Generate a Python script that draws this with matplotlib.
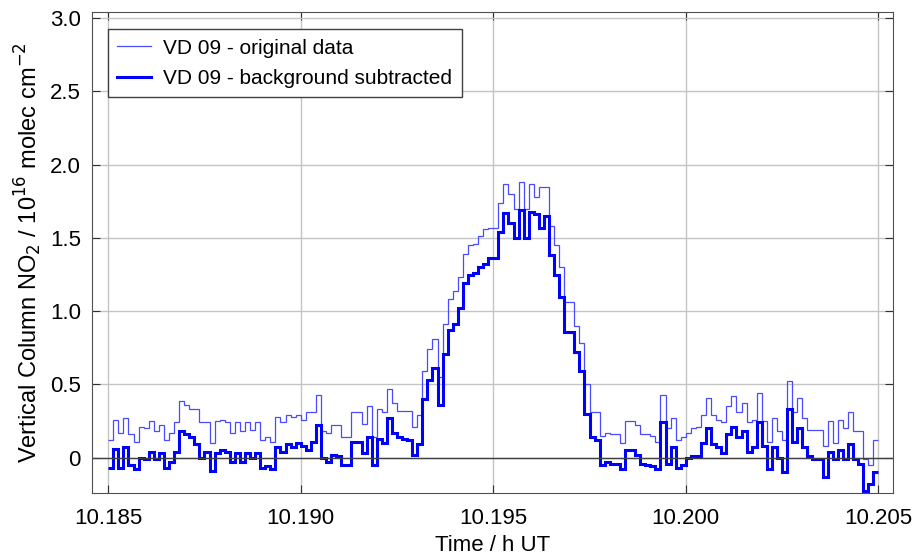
import matplotlib
matplotlib.use('Agg')
import matplotlib.pyplot as plt
import numpy as np

plt.rcParams['font.family'] = ['Liberation Sans', 'DejaVu Sans']

# zeitbereich der messung (h UT)
t_start = 10.185
t_end = 10.205

# VD 09 - background subtracted
vd_sub = [-0.07, 0.06, -0.07, 0.07, -0.05, -0.08, 0.00, -0.01, 0.04, -0.01,
          0.03, -0.07, -0.03, 0.04, 0.18, 0.16, 0.14, 0.09, 0.00, 0.04,
          -0.09, 0.03, 0.05, 0.04, -0.03, 0.03, -0.03, 0.03, 0.00, 0.03,
          -0.07, -0.06, -0.08, 0.07, 0.04, 0.09, 0.07, 0.10, 0.08, 0.05,
          0.11, 0.22, 0.00, -0.03, 0.02, 0.01, -0.05, -0.05, 0.11, 0.11,
          0.03, 0.14, -0.05, 0.13, 0.10, 0.27, 0.17, 0.14, 0.13, 0.12,
          0.02, 0.09, 0.40, 0.53, 0.61, 0.36, 0.71, 0.87, 0.91, 1.02,
          1.19, 1.25, 1.26, 1.30, 1.32, 1.36, 1.36, 1.54, 1.67, 1.60,
          1.50, 1.69, 1.50, 1.68, 1.66, 1.57, 1.65, 1.38, 1.25, 1.10,
          0.86, 0.86, 0.72, 0.59, 0.30, 0.14, 0.12, -0.05, -0.03, -0.04,
          -0.04, -0.08, 0.05, 0.05, 0.02, -0.04, -0.05, -0.06, -0.08, 0.24,
          -0.04, 0.07, -0.07, -0.05, 0.00, 0.01, 0.01, 0.10, 0.20, 0.09,
          0.07, 0.03, 0.16, 0.21, 0.14, 0.18, 0.04, 0.07, 0.24, 0.08,
          -0.08, 0.07, 0.00, -0.10, 0.33, 0.11, 0.20, 0.07, 0.01, -0.01,
          -0.01, -0.13, 0.04, -0.01, 0.05, -0.01, 0.09, -0.01, -0.04, -0.23,
          -0.18, -0.10]

# VD 09 - original data
vd_orig = [0.12, 0.26, 0.17, 0.27, 0.16, 0.11, 0.21, 0.20, 0.25, 0.18,
           0.22, 0.12, 0.17, 0.24, 0.39, 0.36, 0.33, 0.33, 0.24, 0.24,
           0.10, 0.25, 0.26, 0.24, 0.17, 0.24, 0.18, 0.24, 0.19, 0.24,
           0.12, 0.14, 0.11, 0.28, 0.24, 0.29, 0.28, 0.29, 0.26, 0.31,
           0.31, 0.43, 0.18, 0.17, 0.22, 0.22, 0.14, 0.14, 0.31, 0.31,
           0.23, 0.35, 0.14, 0.33, 0.31, 0.47, 0.37, 0.32, 0.32, 0.32,
           0.21, 0.29, 0.59, 0.74, 0.81, 0.55, 0.91, 1.08, 1.14, 1.23,
           1.39, 1.45, 1.46, 1.51, 1.56, 1.57, 1.57, 1.74, 1.87, 1.80,
           1.70, 1.88, 1.70, 1.87, 1.78, 1.85, 1.85, 1.58, 1.45, 1.30,
           1.06, 1.06, 0.90, 0.78, 0.50, 0.31, 0.31, 0.15, 0.17, 0.16,
           0.16, 0.10, 0.25, 0.25, 0.22, 0.16, 0.16, 0.15, 0.11, 0.43,
           0.20, 0.27, 0.12, 0.14, 0.17, 0.20, 0.21, 0.29, 0.41, 0.29,
           0.26, 0.24, 0.35, 0.42, 0.31, 0.37, 0.24, 0.26, 0.44, 0.25,
           0.11, 0.27, 0.18, 0.12, 0.52, 0.31, 0.41, 0.27, 0.19, 0.19,
           0.19, 0.08, 0.25, 0.10, 0.26, 0.20, 0.31, 0.18, 0.18, -0.01,
           -0.05, 0.12]

edges = np.linspace(t_start, t_end, len(vd_sub) + 1)

fig = plt.figure(figsize=(9.2, 5.6), dpi=100)
ax = fig.add_axes([0.1, 0.12, 0.871, 0.858])

ax.stairs(vd_orig, edges, baseline=None, color='#4a4aff', lw=0.9,
          label='VD 09 - original data')
ax.stairs(vd_sub, edges, baseline=None, color='#0000ff', lw=2.2,
          label='VD 09 - background subtracted')
ax.axhline(0, color='#404040', lw=1.0, zorder=1)

ax.set_xlim(10.18458, 10.20539)
ax.set_ylim(-0.24, 3.04)
ax.set_xticks([10.185, 10.190, 10.195, 10.200, 10.205])
ax.set_xticklabels(['10.185', '10.190', '10.195', '10.200', '10.205'])
ax.set_yticks([0, 0.5, 1.0, 1.5, 2.0, 2.5, 3.0])
ax.set_yticklabels(['0', '0.5', '1.0', '1.5', '2.0', '2.5', '3.0'])
ax.grid(True, color='#c4c4c4', lw=1.0)
ax.set_axisbelow(True)
ax.tick_params(direction='in', top=True, right=True, labelsize=16,
               length=6, color='#303030')
ax.tick_params(axis='x', pad=11)
ax.tick_params(axis='y', pad=8)
for s in ax.spines.values():
    s.set_color('#505050')

ax.set_xlabel('Time / h UT', fontsize=16, labelpad=4)
ax.set_ylabel('Vertical Column NO$_2$ / 10$^{16}$ molec cm$^{-2}$', fontsize=17,
              labelpad=4)

leg = ax.legend(loc='upper left', fontsize=15, frameon=True, fancybox=False,
                edgecolor='#404040', framealpha=1, borderpad=0.45,
                labelspacing=0.55, handlelength=1.6, handletextpad=0.6,
                borderaxespad=0, bbox_to_anchor=(0.02, 0.965))
leg.get_frame().set_linewidth(1.0)

plt.savefig('out.png', dpi=100)
